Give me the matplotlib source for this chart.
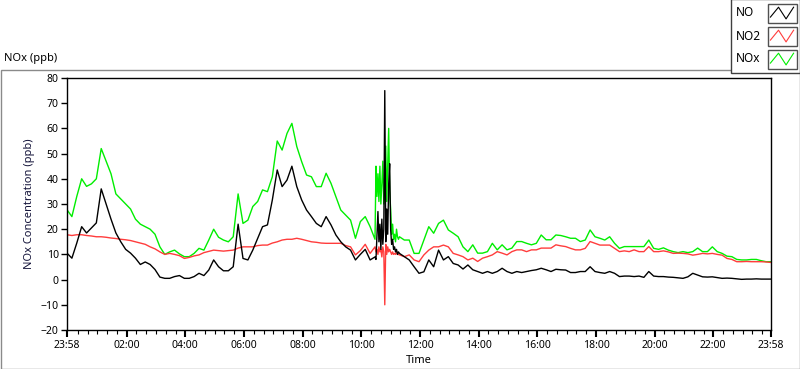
import numpy as np
import matplotlib

matplotlib.use("Agg")
import matplotlib.pyplot as plt  # noqa: E402
from matplotlib.lines import Line2D  # noqa: E402
from matplotlib.patches import Rectangle  # noqa: E402

plt.rcParams.update({
    "font.family": ["Noto Sans", "DejaVu Sans"],
    "font.size": 8,
    "axes.linewidth": 1.0,
})

W, H = 800, 369

# sample times in minutes after 23:58 (10 min steps, 2 min steps around the 10:50 spike)
minutes = np.concatenate([np.arange(0, 630, 10), np.arange(630, 680, 2), np.arange(680, 1441, 10)])

no = [
    # 0 .. 620
    10.5, 8.5, 14.5, 21, 18.5, 20.5, 22.5, 36, 30, 24, 18.5, 15,
    12, 10.5, 8.5, 6, 7, 6, 4, 1, 0.5, 0.5, 1.2, 1.6,
    0.5, 0.5, 1.2, 2.5, 1.6, 3.8, 7.8, 5.1, 3.5, 3.5, 5.1, 22,
    8.4, 7.8, 11.7, 16.4, 21, 21.7, 31.6, 43.5, 36.9, 39.5, 45, 36.9,
    31.6, 27.6, 25, 22.3, 21, 25, 21.7, 17.7, 15, 13, 11.7, 7.8,
    10, 12, 7.8,
    # 630 .. 678 (2 min)
    9, 8, 18, 27, 15, 22, 12, 24, 14, 20, 75, 15, 28, 18, 38, 46, 20, 14, 16, 12, 13, 11, 12, 10, 11,
    # 680 .. 1440
    10.4, 9.1, 7.8, 5.1,
    2.5, 3.1, 7.8, 5.1, 11.7, 7.8, 9.1, 6.4, 5.8, 4.2, 5.8, 3.9,
    3.2, 2.5, 3.2, 2.5, 3.2, 4.5, 3.2, 2.5, 3.2, 2.8, 3.2, 3.6,
    3.9, 4.5, 3.9, 3.2, 4.1, 3.9, 3.8, 2.8, 2.8, 3.2, 3.2, 5.1,
    3.2, 2.8, 2.5, 3.2, 2.5, 1.2, 1.4, 1.4, 1.2, 1.4, 0.9, 3.2,
    1.4, 1.2, 1.2, 1.0, 0.9, 0.7, 0.5, 1.1, 2.5, 1.8, 1.1, 1.0,
    1.1, 0.8, 0.5, 0.6, 0.5, 0.3, 0.1, 0.2, 0.2, 0.3, 0.2, 0.2,
    0.2,
]

no2 = [
    17.8, 17.5, 17.8, 17.8, 17.5, 17.3, 17, 17, 16.8, 16.5, 16.3, 16,
    15.8, 15.5, 15, 14.5, 14, 13, 12.2, 11, 10, 10.4, 10, 9.5,
    8.4, 8.8, 9.4, 9.8, 10.7, 11.2, 11.7, 11.5, 11.3, 11.5, 11.7, 12.5,
    13, 13, 13, 13.5, 13.7, 13.7, 14.5, 15, 15.7, 16, 16, 16.4,
    16, 15.5, 15, 14.8, 14.5, 14.4, 14.4, 14.4, 14.4, 13.5, 13, 9.8,
    11.5, 14, 10.4,
    13, 11, 12, 10, 13, 11, 12, 9, 13, 11, -10, 14, 10, 13, 11, 12, 11, 10, 11, 10, 10.4, 10, 11, 10, 10,
    9.8, 9.1, 9.8, 7.8,
    7.1, 9.8, 11.7, 13, 13, 13.7, 13, 10.4, 9.8, 9.1, 7.8, 8.5,
    7.2, 8.5, 9.1, 9.8, 11.1, 10.5, 9.8, 11.1, 11.8, 11.8, 11.1, 11.8,
    11.8, 12.5, 12.5, 12.5, 13.8, 13.4, 13.1, 12.4, 11.8, 11.8, 12.4, 15.1,
    14.4, 13.7, 13.7, 13.7, 12.4, 11.1, 11.4, 11.1, 11.8, 11.1, 11.1, 13.1,
    11.1, 11.1, 11.4, 11, 10.4, 10.5, 10.4, 10.2, 9.7, 10, 10.4, 10.2,
    10.4, 10, 9.7, 8.4, 8, 7.1, 7.1, 7.2, 7.1, 7.1, 7.1, 7,
    6.8,
]

nox = [
    27.7, 25, 33, 40, 37, 38, 40, 52, 47, 42, 34, 32,
    30, 28, 24, 22, 21, 20, 18, 13, 10, 11, 11.7, 10.2,
    9.1, 9.1, 10.4, 12.4, 11.7, 15.7, 20, 16.8, 15.7, 15, 17, 34,
    22.3, 23.6, 29, 31, 35.6, 34.9, 40.8, 55, 51.4, 58, 62, 52.8,
    46.8, 41.5, 40.8, 36.9, 36.9, 42.2, 38.2, 32.9, 27.6, 25.6, 23.6, 16.4,
    23, 25, 21,
    16, 45, 33, 42, 31, 45, 30, 38, 47, 30, 42, 53, 31, 45, 60, 35, 28, 18, 22, 16, 18, 15, 20, 17, 16,
    17, 15.7, 15.7, 10.4,
    10.4, 15.7, 21, 18.4, 22.3, 23.6, 19.7, 18.4, 17, 13, 11.1, 13.8,
    10.5, 10.5, 11.1, 14.4, 11.8, 13.8, 11.8, 12.5, 15.1, 15.1, 14.4, 13.8,
    14.4, 17.7, 15.8, 15.8, 17.7, 17.5, 17, 16.4, 16.4, 15.1, 15.7, 19.7,
    17, 16.4, 15.7, 17, 14.4, 12.4, 13.1, 13.1, 13.1, 13.1, 13.1, 15.7,
    12.4, 12, 12.6, 11.7, 11.1, 10.7, 11.1, 10.7, 11.1, 12.5, 11.1, 11.1,
    13, 11.1, 10.4, 9.3, 9.1, 8, 7.8, 7.8, 8, 8, 7.5, 7.1,
    7.1,
]

series_names = ["NO", "NO2", "NOx"]
series_colors = ["#000000", "#ff3c3c", "#00ee00"]

tick_minutes = [0, 122, 242, 362, 482, 602, 722, 842, 962, 1082, 1202, 1322, 1440]
tick_labels = ["23:58", "02:00", "04:00", "06:00", "08:00", "10:00", "12:00",
               "14:00", "16:00", "18:00", "20:00", "22:00", "23:58"]
minor_minutes = np.arange(22, 1440, 20)


def px_box(x0, y0, x1, y1):
    """pixel box (top-left origin) -> figure fraction (x, y, w, h)"""
    return x0 / W, 1 - y1 / H, (x1 - x0) / W, (y1 - y0) / H


fig = plt.figure(figsize=(W / 100, H / 100), dpi=100)

# outer panel frame
x, y, w, h = px_box(0.5, 69.5, 799.5, 368.5)
fig.add_artist(Rectangle((x, y), w, h, transform=fig.transFigure, fill=False,
                         edgecolor="#8a8a8a", lw=1.0))

ax = fig.add_axes(px_box(67, 78, 771, 330))
ax.plot(minutes, nox, color=series_colors[2], lw=1.0)
ax.plot(minutes, no2, color=series_colors[1], lw=1.0)
ax.plot(minutes, no, color=series_colors[0], lw=1.0)

ax.set_xlim(0, 1440)
ax.set_ylim(-20, 80)
ax.set_yticks(np.arange(-20, 81, 10))
ax.set_xticks(tick_minutes)
ax.set_xticklabels(tick_labels)
ax.set_xticks(minor_minutes, minor=True)
ax.tick_params(axis="both", labelsize=7.5, colors="#000000", pad=2)
ax.tick_params(axis="x", which="major", length=5, width=1.5)
ax.tick_params(axis="x", which="minor", length=3, width=0.8)
ax.tick_params(axis="y", length=4, width=1.0)
ax.set_ylabel("NOx Concentration (ppb)", fontsize=8, color="#14143a", labelpad=4)
ax.set_xlabel("Time", fontsize=8, labelpad=3)

fig.text(4 / W, 1 - 59 / H, "NOx (ppb)", fontsize=8, ha="left", va="center")

# legend panel
x, y, w, h = px_box(730.5, -1, 799.5, 72.5)
fig.add_artist(Rectangle((x, y), w, h, transform=fig.transFigure, facecolor="white",
                         edgecolor="#404040", lw=1.0, zorder=5))
icon_tops = [4, 27, 50]
for name, color, top in zip(series_names, series_colors, icon_tops):
    fig.text(736 / W, 1 - (top + 9) / H, name, fontsize=8.5, ha="left", va="center", zorder=6)
    bx, by, bw, bh = px_box(767.5, top + 0.5, 796.5, top + 18.5)
    fig.add_artist(Rectangle((bx, by), bw, bh, transform=fig.transFigure, facecolor="white",
                             edgecolor="#505050", lw=1.0, zorder=6))
    zx = [bx + bw * f for f in (0.1, 0.38, 0.64, 0.9)]
    zy = [by + bh * f for f in (0.3, 0.85, 0.2, 0.85)]
    fig.add_artist(Line2D(zx, zy, transform=fig.transFigure, color=color, lw=0.8, zorder=7))

fig.savefig("out.png", dpi=100)
